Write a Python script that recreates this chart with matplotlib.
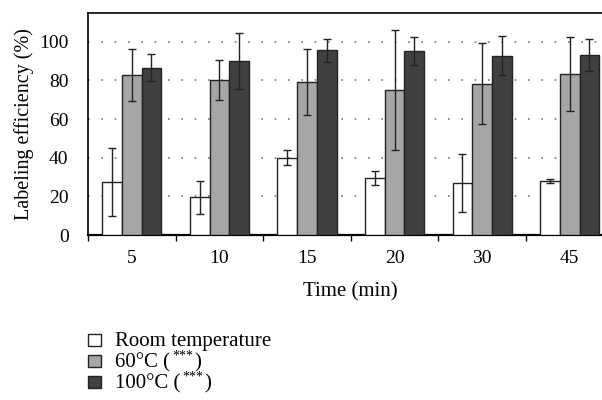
import numpy as np
import matplotlib.pyplot as plt
from matplotlib.patches import Rectangle

times = ["5", "10", "15", "20", "30", "45"]
# legend labels: main text, raised asterisks, closing text
series_names = [("Room temperature", "", ""), ("60°C (", "***", ")"), ("100°C (", "***", ")")]

room = [27.5, 19.5, 40.0, 29.5, 27.0, 28.0]
room_err = [17.5, 8.5, 4.0, 3.5, 15.0, 1.2]
c60 = [82.8, 80.0, 79.0, 74.8, 78.3, 83.3]
c60_err = [13.5, 10.3, 17.0, 31.0, 21.0, 19.0]
c100 = [86.5, 90.0, 95.5, 95.0, 92.7, 93.1]
c100_err = [7.0, 14.3, 6.0, 7.3, 10.0, 8.5]

plt.rcParams["font.family"] = ["Liberation Serif", "DejaVu Serif"]

W, H = 602, 400
fig = plt.figure(figsize=(W / 100, H / 100), dpi=100)
ax = fig.add_axes([88 / W, 1 - 235 / H, 525.5 / W, (235 - 12.7) / H])

x = np.arange(len(times))
w = 0.225
colors = ["white", "#a6a6a6", "#404040"]
data = [(room, room_err), (c60, c60_err), (c100, c100_err)]
for i, (vals, errs) in enumerate(data):
    ax.bar(x + (i - 1) * w, vals, w, color=colors[i], edgecolor="#222222",
           linewidth=1.0, zorder=3)
    ax.errorbar(x + (i - 1) * w, vals, yerr=errs, fmt="none", ecolor="#222222",
                elinewidth=1.0, capsize=3, capthick=1.0, zorder=4)

ax.set_xlim(-0.5, len(times) - 0.5)
ax.set_ylim(0, 115)
ax.set_yticks([0, 20, 40, 60, 80, 100])
ax.set_xticks(x)
ax.set_xticklabels(times)
ax.set_xticks(np.arange(len(times) + 1) - 0.5, minor=True)
ax.tick_params(axis="x", which="major", length=0, labelsize=14, pad=11)
ax.tick_params(axis="x", which="minor", length=4, width=1, direction="out")
ax.tick_params(axis="y", length=0, labelsize=14, pad=14)
ax.grid(axis="y", linestyle=(0, (1, 7)), color="#777777", linewidth=1.2, zorder=0)
ax.set_axisbelow(True)

for s in ["top", "left"]:
    ax.spines[s].set_linewidth(1.2)
ax.spines["bottom"].set_linewidth(1.6)
ax.spines["right"].set_visible(False)

ax.set_ylabel("Labeling efficiency (%)", fontsize=14.5, labelpad=4)
ax.set_xlabel("Time (min)", fontsize=15, labelpad=11)

# legend drawn by hand so the rows stay tight like the original
row_y = [340, 361, 382]
for (main, sup, tail), c, yc in zip(series_names, colors, row_y):
    fig.patches.append(Rectangle((88 / W, 1 - (yc + 5.5) / H), 12.5 / W, 11.5 / H,
                                 transform=fig.transFigure, facecolor=c,
                                 edgecolor="#222222", linewidth=1.0))
    t1 = fig.text(115 / W, 1 - (yc + 6) / H, main, fontsize=15, va="baseline", ha="left")
    if sup:
        t2 = ax.annotate(sup, xy=(1, 1), xycoords=t1, xytext=(1.5, 2),
                         textcoords="offset points", fontsize=10, va="top", ha="left",
                         annotation_clip=False)
        ax.annotate(tail, xy=(1, 0), xycoords=(t2, t1), xytext=(1, 0),
                    textcoords="offset points", fontsize=15, va="bottom", ha="left",
                    annotation_clip=False)

fig.savefig("out.png", dpi=100)
